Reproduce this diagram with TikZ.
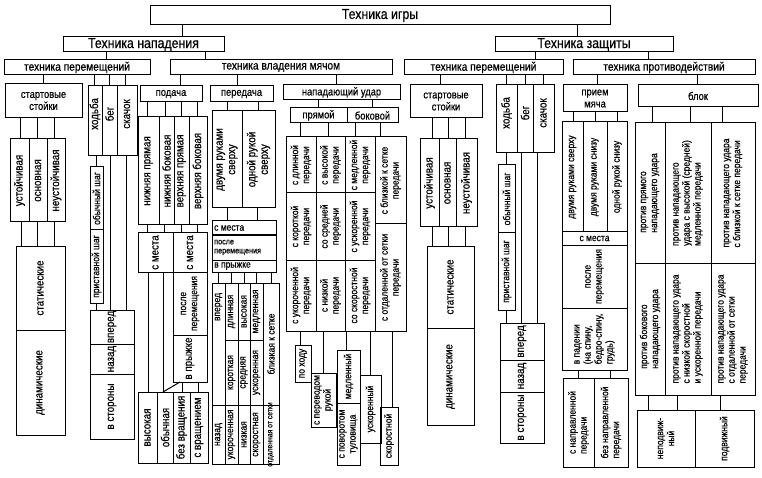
\documentclass[tikz,border=0pt]{standalone}
\usepackage{fontspec}
\setmainfont{Liberation Sans}[FakeStretch=0.85,FakeBold=0.5]
\usepackage{graphicx}
\newcommand\ftitle{\fontsize{14.5}{16}\selectfont}
\newcommand\flevel{\fontsize{12}{13}\selectfont}
\newcommand\fhead{\fontsize{11}{12}\selectfont}
\newcommand\fmid{\fontsize{11.5}{12.5}\selectfont}
\newcommand\fsmall{\fontsize{10}{11}\selectfont}
\newcommand\ftiny{\fontsize{8}{8.5}\selectfont}
\tikzset{
  cb/.style={draw, line width=1pt, inner sep=0pt, outer sep=0pt},
  tx/.style={inner sep=0pt, align=center, font=\fmid},
  vt/.style={tx, rotate=90},
  ln/.style={line width=1pt},
}
\newcommand\cellbox[5]{\node[cb, minimum width={(#4-#2)*1pt}, minimum height={(#5-#3)*1pt}] (#1) at ({(#2+#4)/2},{(#3+#5)/2}) {};}
\newcommand\hc[7][]{\cellbox{#2}{#3}{#4}{#5}{#6}\node[tx,#1] (#2t) at (#2.center) {#7};}
\newcommand\lc[7][]{\cellbox{#2}{#3}{#4}{#5}{#6}\node[tx,anchor=west,align=left,#1] (#2t) at ([xshift=2pt]#2.west) {#7};}
\newcommand\vcl[7][]{\cellbox{#2}{#3}{#4}{#5}{#6}\node[vt,#1] (#2t) at (#2.center) {#7};}
\newcommand\vl[3]{\draw[ln] (#1,0 |- #2.south) -- (#1,0 |- #3.north);}
\begin{document}
\begin{tikzpicture}[x=1pt,y=-1pt]
\useasboundingbox (0,0) rectangle (762,478);
% level 0-2
\hc[font=\ftitle]{root}{150}{6}{610}{25}{Техника игры}
\hc[font=\ftitle]{att}{63}{37}{224}{52}{Техника нападения}
\hc[font=\ftitle]{def}{495}{37}{673}{52}{Техника защиты}
\vl{182}{root}{att}
\vl{577}{root}{def}
\hc[font=\flevel]{amov}{4}{60}{150}{75}{техника перемещений}
\hc[font=\flevel]{aball}{170}{60}{392}{75}{техника владения мячом}
\hc[font=\flevel]{dmov}{404}{60}{563}{75}{техника перемещений}
\hc[font=\flevel]{dcnt}{573}{60}{755}{75}{техника противодействий}
\vl{106}{att}{amov}
\vl{205}{att}{aball}
\vl{535}{def}{dmov}
\vl{648}{def}{dcnt}
% attack movement
\hc[font=\fhead]{ass}{5}{84}{82}{118}{стартовые\\стойки}
\vl{43}{amov}{ass}
\vcl{aus}{10}{139}{29}{222}{устойчивая}
\vcl{aos}{29}{139}{47}{222}{основная}
\vcl{ans}{47}{139}{65}{222}{неустойчивая}
\vl{20}{ass}{aus}
\vl{37}{ass}{aos}
\vl{54}{ass}{ans}
\vcl{ast}{16}{246}{65}{330}{статические}
\vcl{adn}{16}{330}{65}{435}{динамические}
\vl{21}{aus}{ast}
\vl{37}{aos}{ast}
\vl{54}{ans}{ast}
\vcl[xshift=7pt]{awk}{88}{86}{102}{156}{ходьба}
\vcl[xshift=7pt]{arn}{102}{86}{117}{156}{бег}
\vcl[xshift=7pt]{ajp}{117}{86}{137}{156}{скачок}
\vl{94}{amov}{awk}
\vl{109}{amov}{arn}
\vl{125}{amov}{ajp}
\vcl[font=\fsmall]{aob}{90}{167}{103}{230}{обычный шаг}
\vcl[font=\fsmall]{apr}{90}{230}{103}{303}{приставной шаг}
\vl{96}{awk}{aob}
\vcl{afw}{90}{310}{134}{344}{вперед}
\vcl{abk}{90}{344}{134}{374}{назад}
\vcl{asd}{90}{374}{134}{439}{в стороны}
\vl{96}{apr}{afw}
\vl{110}{arn}{afw}
\vl{126}{ajp}{afw}
% подача
\hc[font=\fhead]{psv}{140}{86}{202}{102}{подача}
\vl{180}{aball}{psv}
\vcl{p1}{138}{117}{159}{225}{нижняя прямая}
\vcl{p2}{159}{117}{174}{225}{нижняя боковая}
\vcl{p3}{174}{117}{189}{225}{верхняя прямая}
\vcl{p4}{189}{117}{207}{225}{верхняя боковая}
\vl{147}{psv}{p1}
\vl{165}{psv}{p2}
\vl{181}{psv}{p3}
\vl{197}{psv}{p4}
\vcl{pm1}{138}{233}{173}{272}{с места}
\vcl{pm2}{173}{233}{207}{272}{с места}
\vcl[font=\fsmall]{pap}{173}{272}{207}{335}{после\\перемещения}
\vcl{pjp}{173}{335}{207}{382}{в прыжке}
\vl{147}{p1}{pm1}
\vl{164}{p2}{pm1}
\vl{181}{p3}{pm2}
\vl{197}{p4}{pm2}
\vcl{pv1}{138}{392}{157}{463}{высокая}
\vcl{pv2}{157}{392}{173}{463}{обычная}
\vcl{pv3}{173}{392}{190}{463}{без вращения}
\vcl{pv4}{190}{392}{208}{463}{с вращением}
\vl{148}{pm1}{pv1}
\vl{163}{pm1}{pv2}
\draw[ln] (180,0 |- pjp.south) -- (163,0 |- pv2.north);
\vl{182}{pjp}{pv3}
\vl{198}{pjp}{pv4}
% передача
\hc[font=\fhead]{per}{210}{86}{273}{102}{передача}
\vl{237}{aball}{per}
\vcl{pe1}{212}{111}{242}{208}{двумя руками\\сверху}
\vcl{pe2}{242}{111}{275}{208}{одной рукой\\сверху}
\vl{227}{per}{pe1}
\vl{258}{per}{pe2}
\lc[font=\fsmall]{pm}{212}{221}{276}{235}{с места}
\lc[font=\fontsize{8.5}{9}\selectfont]{pp}{212}{235}{276}{260}{после\\перемещения}
\lc[font=\fsmall]{pj}{212}{260}{276}{272}{в прыжке}
\vl{227}{pe1}{pm}
\vl{257}{pe2}{pm}
\vcl[font=\fsmall,xshift=37pt]{q1a}{212}{283}{225}{405}{вперед}
\vcl[font=\fsmall]{q1b}{212}{405}{225}{464}{назад}
\vcl[font=\fsmall]{q2a}{225}{283}{238}{340}{длинная}
\vcl[font=\fsmall]{q2b}{225}{340}{238}{405}{короткая}
\vcl[font=\fsmall]{q2c}{225}{405}{238}{464}{укороченная}
\vcl[font=\fsmall]{q3a}{238}{283}{250}{340}{высокая}
\vcl[font=\fsmall]{q3b}{238}{340}{250}{405}{средняя}
\vcl[font=\fsmall]{q3c}{238}{405}{250}{464}{низкая}
\vcl[font=\fsmall]{q4a}{250}{283}{263}{340}{медленная}
\vcl[font=\fsmall]{q4b}{250}{340}{263}{405}{ускоренная}
\vcl[font=\fsmall]{q4c}{250}{405}{263}{464}{скоростная}
\vcl[font=\fsmall]{q5a}{263}{283}{279}{405}{близкая к сетке}
\vcl[font=\ftiny]{q5b}{263}{405}{279}{464}{отдаленная от сетки}
\vl{218}{pj}{q1a}
\vl{231}{pj}{q2a}
\vl{244}{pj}{q3a}
\vl{256}{pj}{q4a}
\vl{271}{pj}{q5a}
% нападающий удар
\hc[font=\fhead]{nu}{283}{85}{400}{100}{нападающий удар}
\vl{336}{aball}{nu}
\hc[font=\fhead]{npr}{290}{108}{347}{123}{прямой}
\hc[font=\fhead]{nbk}{347}{108}{398}{123}{боковой}
\vl{318}{nu}{npr}
\vl{372}{nu}{nbk}
\vcl[font=\fsmall]{c1a}{286}{137}{316}{193}{с длинной\\передачи}
\vcl[font=\fsmall]{c1b}{286}{193}{316}{260}{с короткой\\передачи}
\vcl[font=\fsmall]{c1c}{286}{260}{316}{331}{с укороченной\\передачи}
\vcl[font=\fsmall]{c2a}{316}{137}{345}{193}{с высокой\\передачи}
\vcl[font=\fsmall]{c2b}{316}{193}{345}{260}{со средней\\передачи}
\vcl[font=\fsmall]{c2c}{316}{260}{345}{331}{с низкой\\передачи}
\vcl[font=\fsmall]{c3a}{345}{137}{375}{193}{с медленной\\передачи}
\vcl[font=\fsmall]{c3b}{345}{193}{375}{260}{с ускоренной\\передачи}
\vcl[font=\fsmall]{c3c}{345}{260}{375}{331}{со скоростной\\передачи}
\vcl[font=\fsmall]{c4a}{375}{137}{406}{224}{с близкой к сетке\\передачи}
\vcl[font=\fsmall]{c4b}{375}{224}{406}{331}{с отдаленной от сетки\\передачи}
\vl{300}{npr}{c1a}
\vl{328}{npr}{c2a}
\vl{355}{nbk}{c3a}
\vl{380}{nbk}{c4a}
\vcl[font=\fsmall]{nph}{295}{345}{311}{382}{по ходу}
\vcl[font=\fsmall]{ncr}{311}{373}{336}{427}{с переводом\\рукой}
\vcl[font=\fsmall]{nsl}{337}{350}{360}{403}{медленный}
\vcl[font=\fsmall]{npt}{337}{403}{360}{465}{с поворотом\\туловища}
\vcl[font=\fsmall]{nac}{360}{375}{381}{443}{ускоренный}
\vcl[font=\fsmall]{nsp}{380}{407}{398}{465}{скоростной}
\vl{300}{c1c}{nph}
\vl{323}{c2c}{ncr}
\vl{346}{c3c}{nsl}
\vl{370}{c3c}{nac}
\vl{392}{c4b}{nsp}
% defence movement
\hc[font=\fhead]{dss}{410}{85}{482}{118}{стартовые\\стойки}
\vl{440}{dmov}{dss}
\vcl{dus}{420}{139}{439}{227}{устойчивая}
\vcl{dos}{439}{139}{456}{227}{основная}
\vcl{dns}{456}{139}{477}{227}{неустойчивая}
\vl{432}{dss}{dus}
\vl{448}{dss}{dos}
\vl{465}{dss}{dns}
\vcl{dst}{427}{246}{474}{328}{статические}
\vcl{ddn}{427}{328}{474}{425}{динамические}
\vl{432}{dus}{dst}
\vl{448}{dos}{dst}
\vl{465}{dns}{dst}
\vcl[xshift=6pt]{dwk}{496}{85}{517}{153}{ходьба}
\vcl[xshift=6pt]{drn}{517}{85}{533}{153}{бег}
\vcl[xshift=6pt]{djp}{533}{85}{554}{153}{скачок}
\vl{506}{dmov}{dwk}
\vl{525}{dmov}{drn}
\vl{543}{dmov}{djp}
\vcl[font=\fsmall]{dob}{498}{165}{515}{233}{обычный шаг}
\vcl[font=\fsmall]{dpr}{498}{233}{515}{310}{приставной шаг}
\vl{506}{dwk}{dob}
\vcl{dfw}{500}{323}{544}{360}{вперед}
\vcl{dbk}{500}{360}{544}{392}{назад}
\vcl{dsd}{500}{392}{544}{443}{в стороны}
\vl{506}{dpr}{dfw}
\vl{521}{drn}{dfw}
\vl{537}{djp}{dfw}
% прием мяча
\hc[font=\fhead]{prm}{563}{85}{627}{112}{прием\\мяча}
\vl{597}{dcnt}{prm}
\vcl[font=\fsmall]{r1}{562}{122}{583}{232}{двумя руками сверху}
\vcl[font=\fsmall]{r2}{583}{122}{607}{232}{двумя руками снизу}
\vcl[font=\fsmall]{r3}{607}{122}{627}{232}{одной рукой снизу}
\vl{573}{prm}{r1}
\vl{595}{prm}{r2}
\vl{617}{prm}{r3}
\hc[font=\fsmall]{rsm}{562}{232}{627}{245}{с места}
\vcl[font=\fsmall]{rpp}{562}{245}{627}{308}{после\\перемещения}
\vcl[font=\fsmall,align=left]{rfl}{562}{308}{627}{370}{в падении\\(на спину,\\бедро-спину,\\грудь)}
\vcl[font=\fsmall,align=left]{rn1}{563}{378}{594}{467}{с направленной\\передачи}
\vcl[font=\fsmall,align=left]{rn2}{594}{378}{628}{467}{без направленной\\передачи}
\vl{578}{rfl}{rn1}
\vl{610}{rfl}{rn2}
% блок
\hc[font=\fhead]{blk}{638}{85}{758}{107}{блок}
\vl{697}{dcnt}{blk}
\vcl[font=\fsmall,align=left]{b1a}{635}{123}{665}{263}{против прямого\\нападающего удара}
\vcl[font=\fsmall,align=left]{b2a}{665}{123}{711}{263}{против нападающего\\удара с высокой (средней)\\медленной передачи}
\vcl[font=\fsmall,align=left]{b3a}{711}{123}{755}{263}{против нападающего удара\\с близкой к сетке передачи}
\vcl[font=\fsmall,align=left]{b1b}{635}{263}{665}{395}{против бокового\\нападающего удара}
\vcl[font=\fsmall,align=left]{b2b}{665}{263}{711}{395}{против нападающего удара\\с низкой скоростной\\и ускоренной передачи}
\vcl[font=\fsmall,align=left]{b3b}{711}{263}{755}{395}{против нападающего удара\\с отдаленной от сетки\\передачи}
\vl{652}{blk}{b1a}
\vl{690}{blk}{b2a}
\vl{722}{blk}{b3a}
\vcl[font=\fsmall]{bn1}{637}{410}{695}{467}{неподвиж-\\ный}
\vcl[font=\fsmall]{bn2}{695}{410}{754}{467}{подвижный}
\vl{648}{b1b}{bn1}
\vl{677}{b2b}{bn1}
\vl{720}{b3b}{bn2}
\end{tikzpicture}
\end{document}
